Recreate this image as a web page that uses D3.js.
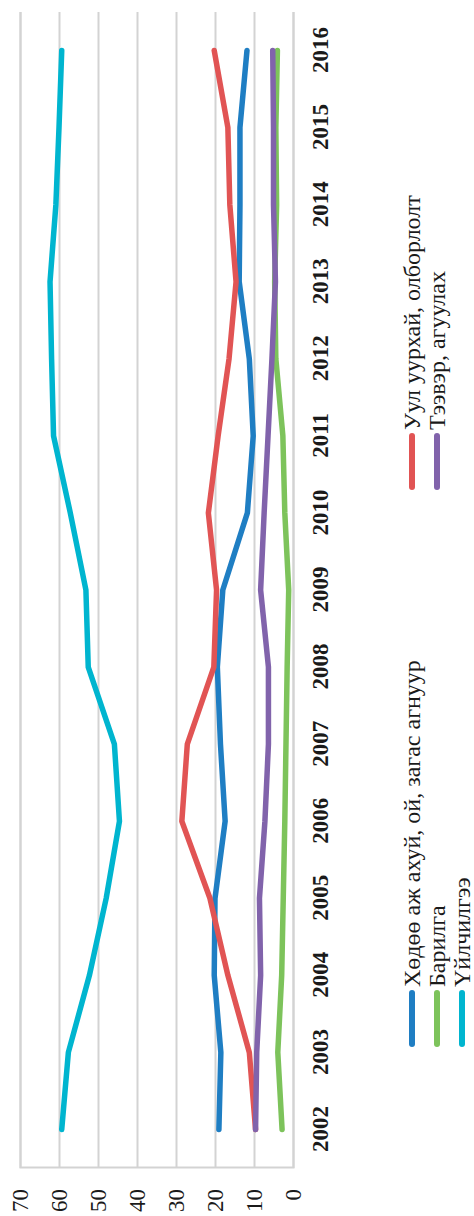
<!DOCTYPE html>
<html>
<head>
<meta charset="utf-8">
<script src="https://cdnjs.cloudflare.com/ajax/libs/d3/7.8.5/d3.min.js"></script>
<style>
  html, body { margin: 0; padding: 0; background: #fff; overflow: hidden; }
  svg { display: block; }
  text { font-family: "Liberation Serif", "Times New Roman", serif; fill: #1a1a1a; }
</style>
</head>
<body>
<div class="container"></div>
<script>
var years = [2002,2003,2004,2005,2006,2007,2008,2009,2010,2011,2012,2013,2014,2015,2016];

var agriculture  = [19.0,18.5,20.2,20.0,17.4,18.6,19.4,18.0,11.7,10.2,11.2,13.8,13.6,13.6,11.8];
var mining       = [9.6,11.2,16.7,21.3,28.5,27.1,20.3,19.6,21.7,19.2,16.4,14.6,16.2,16.7,20.2];
var construction = [2.8,3.9,2.9,2.5,2.1,1.8,1.5,1.1,2.1,2.6,4.4,4.7,4.2,4.4,4.0];
var transport    = [9.6,9.3,8.3,8.6,7.2,6.3,6.3,8.3,7.4,6.4,5.4,4.5,5.0,5.0,5.2];
var services     = [59.3,57.6,52.2,47.9,44.5,45.8,52.5,53.1,57.1,61.4,61.9,62.3,60.8,60.0,59.3];

var seriesNames = [
  "Хөдөө аж ахуй, ой, загас агнуур",
  "Уул уурхай, олборлолт",
  "Барилга",
  "Тээвэр, агуулах",
  "Үйлчилгээ"
];
var valueTicks = [0,10,20,30,40,50,60,70];

const WIDTH = 1216;   // chart drawn landscape, then turned on its side
const HEIGHT = 474;
const PLOT_LEFT = 48;
const PLOT_RIGHT = 1204;
const PLOT_TOP = 20;
const PLOT_BOTTOM = 293;

var colors = ["#1f7ec3", "#e15454", "#7dc35b", "#8163ab", "#00b5cf"];
var seriesValues = [agriculture, mining, construction, transport, services];

var translate = function(x, y){
  return "translate(" + x + "," + y + ")";
};

var _xScale = d3.scalePoint()
  .domain(years)
  .range([PLOT_LEFT, PLOT_RIGHT])
  .padding(0.5);

var _yScale = d3.scaleLinear()
  .domain([0, 70])
  .range([PLOT_BOTTOM, PLOT_TOP]);

var _line = d3.line()
  .x(function(entry, index){ return _xScale(years[index]); })
  .y(function(entry){ return _yScale(entry); });

var generateChart = function(){
  var svg = d3.select('.container').append('svg')
    .attr('width', HEIGHT)
    .attr('height', WIDTH);

  svg.append('rect').attr('width', HEIGHT).attr('height', WIDTH).attr('fill', '#fff');

  var chart = svg.append('g')
    .attr('transform', translate(0, WIDTH) + " rotate(-90)");

  // gridlines
  var grid = d3.axisLeft(_yScale)
    .tickValues(valueTicks)
    .tickSize(-(PLOT_RIGHT - PLOT_LEFT))
    .tickFormat("");
  var g = chart.append('g')
    .attr('transform', translate(PLOT_LEFT, 0))
    .call(grid);
  g.select('.domain').attr('stroke', '#d3d3d3').attr('stroke-width', 2);
  g.selectAll('.tick line').attr('stroke', '#d3d3d3').attr('stroke-width', 2);

  // value labels
  var yAxis = d3.axisLeft(_yScale).tickValues(valueTicks).tickSize(0).tickPadding(0);
  var ya = chart.append('g')
    .attr('transform', translate(27, 0))
    .call(yAxis);
  ya.select('.domain').remove();
  ya.selectAll('text')
    .attr('font-family', '"Liberation Serif", serif')
    .attr('font-size', 23)
    .attr('fill', '#1a1a1a')
    .attr('dy', '0.34em');

  // year labels
  var xAxis = d3.axisBottom(_xScale).tickSize(0).tickPadding(0);
  var xa = chart.append('g')
    .attr('transform', translate(0, 328))
    .call(xAxis);
  xa.select('.domain').remove();
  xa.selectAll('text')
    .attr('y', 0)
    .attr('dy', 0)
    .attr('font-family', '"Liberation Serif", serif')
    .attr('font-size', 23)
    .attr('font-weight', 'bold')
    .attr('fill', '#1a1a1a');

  // lines
  chart.append('g').selectAll('path')
    .data(seriesValues)
    .enter().append('path')
    .attr('d', _line)
    .attr('fill', 'none')
    .attr('stroke', function(d, i){ return colors[i]; })
    .attr('stroke-width', 5.5)
    .attr('stroke-linecap', 'round')
    .attr('stroke-linejoin', 'round');

  // legend, two columns filled row by row
  var colX = [172, 729];
  var legend = chart.append('g').selectAll('g')
    .data(seriesNames)
    .enter().append('g')
    .attr('transform', function(d, i){
      return translate(colX[i % 2], 412 + Math.floor(i / 2) * 25);
    });
  legend.append('line')
    .attr('x1', 0).attr('x2', 51)
    .attr('stroke', function(d, i){ return colors[i]; })
    .attr('stroke-width', 6)
    .attr('stroke-linecap', 'round');
  legend.append('text')
    .attr('x', 57)
    .attr('dy', '0.34em')
    .attr('font-size', 24)
    .text(function(d){ return d; });
};

window.onload = generateChart;
</script>
</body>
</html>
